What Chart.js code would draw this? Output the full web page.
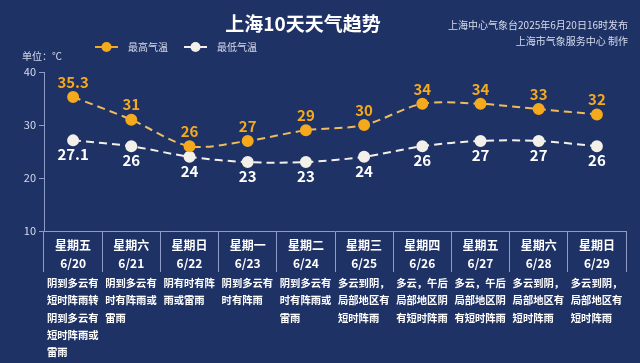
<!DOCTYPE html>
<html><head><meta charset="utf-8">
<script src="https://cdn.jsdelivr.net/npm/chart.js@4"></script>
<style>html,body{margin:0;padding:0;background:#1f3265;}#wrap{width:640px;height:363px;}</style>
</head><body><div id="wrap"><canvas id="c" width="640" height="363"></canvas></div>
<script>
const weekdays = ["星期五","星期六","星期日","星期一","星期二","星期三","星期四","星期五","星期六","星期日"];
const dates = ["6/20","6/21","6/22","6/23","6/24","6/25","6/26","6/27","6/28","6/29"];
const highTemps = [35.3, 31, 26, 27, 29, 30, 34, 34, 33, 32];
const lowTemps = [27.1, 26, 24, 23, 23, 24, 26, 27, 27, 26];
const yTicks = [10, 20, 30, 40];
const descriptions = [
  ["阴到多云有","短时阵雨转","阴到多云有","短时阵雨或","雷雨"],
  ["阴到多云有","时有阵雨或","雷雨"],
  ["阴有时有阵","雨或雷雨"],
  ["阴到多云有","时有阵雨"],
  ["阴到多云有","时有阵雨或","雷雨"],
  ["多云到阴，","局部地区有","短时阵雨"],
  ["多云，午后","局部地区阴","有短时阵雨"],
  ["多云，午后","局部地区阴","有短时阵雨"],
  ["多云到阴，","局部地区有","短时阵雨"],
  ["多云到阴，","局部地区有","短时阵雨"]
];
const titleText = "上海10天天气趋势";
const sourceLines = ["上海中心气象台2025年6月20日16时发布","上海市气象服务中心 制作"];
const unitText = "单位：℃";
const seriesNames = ["最高气温","最低气温"];

const BG = "#1f3265";
const ORANGE = "#f5a91c";
const ORANGE_LINE = "#efbb5e";
const WHITE = "#f3f0ea";
const AXIS = "#8d9cc4";
const FONT = "'Noto Sans CJK SC','Noto Sans',sans-serif";

const decor = {
  id: 'decor',
  beforeDraw(chart) {
    const ctx = chart.ctx;
    ctx.save();
    ctx.fillStyle = BG;
    ctx.fillRect(0, 0, chart.width, chart.height);
    ctx.restore();
  },
  afterDraw(chart) {
    const ctx = chart.ctx;
    const xs = chart.scales.x;
    ctx.save();
    // title
    ctx.fillStyle = "#ffffff";
    ctx.font = "bold 19px " + FONT;
    ctx.textAlign = "center";
    ctx.textBaseline = "middle";
    ctx.fillText(titleText, 303, 24);
    // source
    ctx.font = "10px " + FONT;
    ctx.fillStyle = "#d6dcec";
    ctx.textAlign = "right";
    ctx.fillText(sourceLines[0], 628, 25);
    ctx.fillText(sourceLines[1], 628, 41);
    // unit
    ctx.textAlign = "left";
    ctx.fillText(unitText, 22, 56);
    // legend
    const leg = [{x: 95, c: ORANGE, lc: ORANGE, t: seriesNames[0], tx: 128}, {x: 184, c: WHITE, lc: WHITE, t: seriesNames[1], tx: 217}];
    leg.forEach(l => {
      ctx.strokeStyle = l.lc; ctx.lineWidth = 2;
      ctx.beginPath(); ctx.moveTo(l.x, 47); ctx.lineTo(l.x + 23, 47); ctx.stroke();
      ctx.fillStyle = l.c;
      ctx.beginPath(); ctx.arc(l.x + 11.5, 47, 5, 0, Math.PI * 2); ctx.fill();
      ctx.fillStyle = "#d6dcec";
      ctx.font = "10px " + FONT;
      ctx.textAlign = "left";
      ctx.fillText(l.t, l.tx, 47);
    });
    // data labels
    ctx.font = "bold 15px " + FONT;
    ctx.textAlign = "center";
    const m0 = chart.getDatasetMeta(0), m1 = chart.getDatasetMeta(1);
    m0.data.forEach((p, i) => {
      ctx.fillStyle = ORANGE;
      ctx.fillText(String(highTemps[i]), p.x, p.y - 15);
    });
    m1.data.forEach((p, i) => {
      ctx.fillStyle = "#ffffff";
      ctx.fillText(String(lowTemps[i]), p.x, p.y + 14);
    });
    // descriptions
    ctx.font = "bold 10.3px " + FONT;
    ctx.fillStyle = "#ffffff";
    ctx.textAlign = "left";
    const half = (xs.getPixelForValue(1) - xs.getPixelForValue(0)) / 2;
    descriptions.forEach((lines, i) => {
      const left = xs.getPixelForValue(i) - half + 3;
      lines.forEach((ln, j) => ctx.fillText(ln, left, 283 + j * 17.3));
    });
    ctx.restore();
  }
};

new Chart(document.getElementById('c'), {
  type: 'line',
  data: {
    labels: weekdays.map((w, i) => [w, dates[i]]),
    datasets: [
      { label: seriesNames[0], data: highTemps, borderColor: ORANGE_LINE, backgroundColor: ORANGE,
        pointBackgroundColor: ORANGE, pointBorderColor: ORANGE, pointRadius: 5, borderWidth: 2,
        borderDash: [8, 5], tension: 0.3 },
      { label: seriesNames[1], data: lowTemps, borderColor: WHITE, backgroundColor: WHITE,
        pointBackgroundColor: WHITE, pointBorderColor: WHITE, pointRadius: 5, borderWidth: 2,
        borderDash: [8, 5], tension: 0.3 }
    ]
  },
  options: {
    responsive: false,
    animation: false,
    devicePixelRatio: 1,
    layout: { padding: { left: 0, right: 14, top: 72, bottom: 0 } },
    plugins: { legend: { display: false }, title: { display: false }, tooltip: { enabled: false } },
    scales: {
      x: {
        offset: true,
        border: { color: AXIS, width: 1 },
        grid: { offset: true, drawOnChartArea: false, color: AXIS, tickLength: 41 },
        ticks: { color: "#ffffff", font: { family: FONT, size: 12, weight: 'bold', lineHeight: 1.5 }, padding: -36, maxRotation: 0, autoSkip: false },
        afterFit(s) { s.height = 132; }
      },
      y: {
        min: 10, max: 40,
        afterBuildTicks(s) { s.ticks = yTicks.map(v => ({ value: v })); },
        border: { color: AXIS, width: 1 },
        grid: { drawOnChartArea: false, color: AXIS, tickLength: 5 },
        ticks: { color: "#d6dcec", font: { family: FONT, size: 11 }, padding: 3 },
        afterFit(s) { s.width = 44; }
      }
    }
  },
  plugins: [decor]
});
</script>
</body></html>
